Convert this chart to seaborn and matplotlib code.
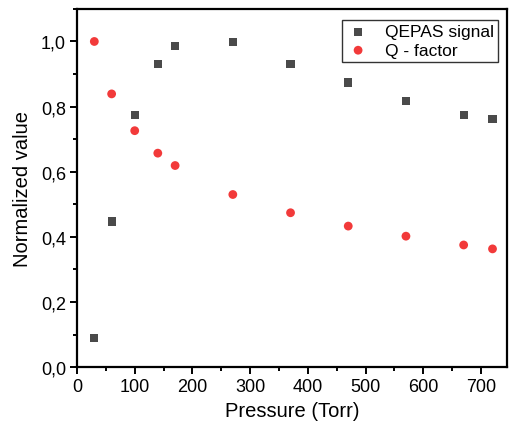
import matplotlib
matplotlib.use("Agg")
import matplotlib.pyplot as plt
import seaborn as sns
from matplotlib.ticker import MultipleLocator, FuncFormatter

# Data
pressure = [30, 60, 100, 140, 170, 270, 370, 470, 570, 670, 720]
qepas_signal = [0.088, 0.447, 0.773, 0.930, 0.987, 0.999, 0.930, 0.874, 0.817, 0.773, 0.762]
q_factor = [1.000, 0.839, 0.726, 0.657, 0.619, 0.530, 0.474, 0.433, 0.402, 0.375, 0.363]

sns.set_style("ticks")
plt.rcParams['font.family'] = ['Liberation Sans', 'DejaVu Sans']
plt.rcParams.update({'text.color': 'black', 'axes.labelcolor': 'black',
                     'xtick.color': 'black', 'ytick.color': 'black'})

fig = plt.figure(figsize=(5.1, 4.31), dpi=100)
ax = fig.add_axes([0.151, 0.146, 0.843, 0.831])

sns.scatterplot(x=pressure, y=qepas_signal, marker='s', s=34, color='#4a4a4a',
                edgecolor='none', label='QEPAS signal', ax=ax)
sns.scatterplot(x=pressure, y=q_factor, marker='o', s=40, color='#f23a3a',
                edgecolor='none', label='Q - factor', ax=ax)

ax.set_xlim(0, 745)
ax.set_ylim(0, 1.1)
ax.xaxis.set_major_locator(MultipleLocator(100))
ax.xaxis.set_minor_locator(MultipleLocator(50))
ax.yaxis.set_major_locator(MultipleLocator(0.2))
ax.yaxis.set_minor_locator(MultipleLocator(0.1))
ax.yaxis.set_major_formatter(FuncFormatter(lambda v, p: f"{v:.1f}".replace('.', ',')))

ax.tick_params(which='major', direction='out', length=5, width=1.4, labelsize=13, pad=3)
ax.tick_params(which='minor', direction='out', length=3, width=1.4)
for sp in ax.spines.values():
    sp.set_linewidth(1.6)
    sp.set_color('black')

ax.set_xlabel('Pressure (Torr)', fontsize=14.5, labelpad=4)
ax.set_ylabel('Normalized value', fontsize=14.5, labelpad=6)

leg = ax.legend(loc='upper right', bbox_to_anchor=(0.98, 0.97), borderaxespad=0,
                fontsize=12.5, frameon=True, fancybox=False,
                edgecolor='black', handletextpad=0.9,
                borderpad=0.25, labelspacing=0.2, handlelength=1.3)
leg.get_frame().set_linewidth(1.0)

fig.savefig('out.png', dpi=100)
